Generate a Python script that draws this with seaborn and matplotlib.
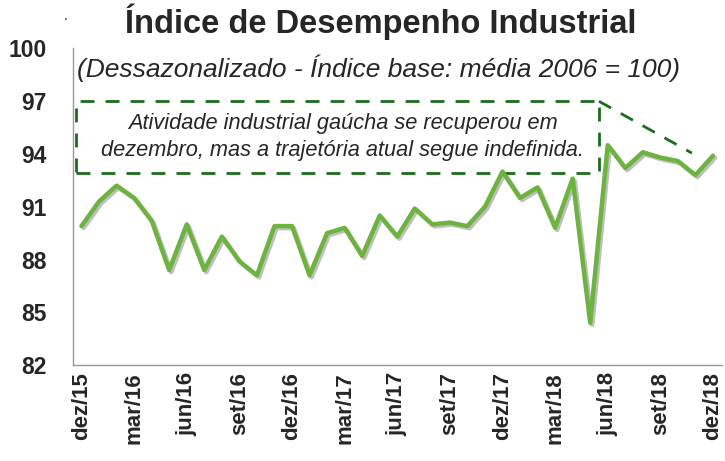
import matplotlib
matplotlib.use("Agg")
import matplotlib.pyplot as plt
import matplotlib.patheffects as pe
from matplotlib.patches import Rectangle
import pandas as pd
import seaborn as sns

# monthly index, dez/15 .. dez/18
values = [
    89.9, 91.3, 92.2, 91.5, 90.2, 87.4, 90.0, 87.4, 89.3, 87.9, 87.1, 89.9, 89.9,
    87.1, 89.5, 89.8, 88.2, 90.5, 89.3, 90.9, 90.0, 90.1, 89.9, 91.0, 93.0, 91.5,
    92.1, 89.8, 92.6, 84.4, 94.5, 93.2, 94.1, 93.8, 93.6, 92.8, 93.9,
]
tick_labels = ["dez/15", "mar/16", "jun/16", "set/16", "dez/16", "mar/17", "jun/17",
               "set/17", "dez/17", "mar/18", "jun/18", "set/18", "dez/18"]
y_ticks = [82, 85, 88, 91, 94, 97, 100]

title = "Índice de Desempenho Industrial"
subtitle = "(Dessazonalizado - Índice base: média 2006 = 100)"
note = "Atividade industrial gaúcha se recuperou em\ndezembro, mas a trajetória atual segue indefinida."

LINE_GREEN = "#6db33f"
BOX_GREEN = "#1e6b1e"

df = pd.DataFrame({"idx": range(len(values)), "value": values})

sns.set_style("white")
plt.rcParams["font.family"] = ["Liberation Sans", "DejaVu Sans"]

fig = plt.figure(figsize=(7.25, 4.61), dpi=100)
ax = fig.add_axes([0.1003, 0.2082, 0.8952, 0.6866])

sns.lineplot(data=df, x="idx", y="value", ax=ax, color=LINE_GREEN, linewidth=3.2,
             path_effects=[pe.SimpleLineShadow(offset=(1.5, -1.5), alpha=0.25, shadow_color="black"),
                           pe.Normal()])

ax.set_xlim(-0.5, len(values) - 0.5)
ax.set_ylim(82, 100)
ax.set_yticks(y_ticks)
ax.set_yticklabels([str(v) for v in y_ticks], fontsize=16.5, fontweight="bold")

label_pos = list(range(0, len(values), 3))
ax.set_xticks([p - 0.5 for p in label_pos])
ax.set_xticklabels([])
ax.set_xticks(label_pos, minor=True)
ax.set_xticklabels(tick_labels, minor=True, rotation=90, fontsize=16, fontweight="bold")
ax.tick_params(axis="x", which="minor", length=0, pad=5)
ax.tick_params(axis="x", which="major", length=5, color="#888888", direction="out")
ax.tick_params(axis="y", length=5, color="#888888", direction="out", pad=14)
ax.set_xlabel("")
ax.set_ylabel("")

for side in ["top", "right"]:
    ax.spines[side].set_visible(False)
for side in ["left", "bottom"]:
    ax.spines[side].set_color("#999999")
    ax.spines[side].set_linewidth(1.0)

# dashed annotation box
box_x0, box_x1 = -0.33, 29.5
box_y0, box_y1 = 92.9, 97.0
ax.add_patch(Rectangle((box_x0, box_y0), box_x1 - box_x0, box_y1 - box_y0, fill=False,
                       edgecolor=BOX_GREEN, linestyle=(0, (5, 4)), linewidth=2, clip_on=False))
ax.plot([box_x1, 34.8], [box_y1, 94.05], color=BOX_GREEN, linestyle=(0, (5, 4)), linewidth=2)
ax.text((box_x0 + box_x1) / 2 + 0.3, (box_y0 + box_y1) / 2, note, ha="center", va="center",
        fontsize=15.7, style="italic", linespacing=1.4)

fig.text(0.525, 0.952, title, ha="center", va="center", fontsize=23.5, fontweight="bold")
fig.text(0.522, 0.852, subtitle, ha="center", va="center", fontsize=19, style="italic")
fig.text(0.09, 0.965, ".", ha="center", va="center", fontsize=10)

fig.savefig("out.png", dpi=100)
